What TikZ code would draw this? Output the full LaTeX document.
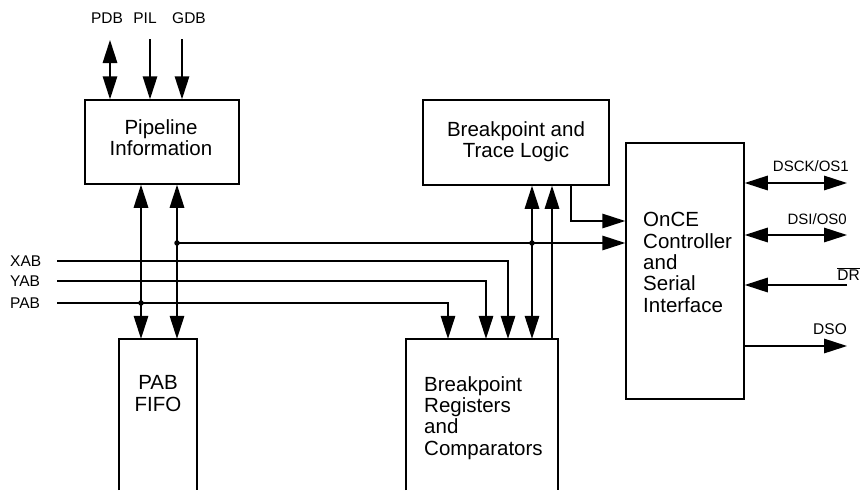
\documentclass[tikz,border=0pt]{standalone}
\usepackage{fontspec}
\setmainfont{Liberation Sans}
\usetikzlibrary{arrows.meta}
\begin{document}
\begin{tikzpicture}[x=1pt,y=-1pt,
  wire/.style={line width=1.5pt},
  tip/.style={wire,-{Triangle[length=23pt,width=14.5pt]}},
  dtip/.style={wire,{Triangle[length=23pt,width=14.5pt]}-{Triangle[length=23pt,width=14.5pt]}},
  blk/.style={draw,line width=1.5pt,inner sep=0pt,rectangle},
  oblk/.style={inner sep=0pt,rectangle},
  btxt/.style={font=\fontsize{20.5}{21.3}\selectfont,inner sep=0pt},
  lbl/.style={font=\fontsize{15.5}{17}\selectfont,inner sep=0pt},
  jdot/.style={circle,fill,inner sep=0pt,minimum size=5.5pt}]
\useasboundingbox (0,0) rectangle (861,490);

% blocks
\node[blk,minimum width=154pt,minimum height=84pt] (pipe) at (162,142) {};
\node[blk,minimum width=186pt,minimum height=85pt] (trace) at (516,142.5) {};
\node[blk,minimum width=118pt,minimum height=256pt] (once) at (685,271) {};
\node[oblk,minimum width=78pt,minimum height=151pt] (fifo) at (158,414.5) {};
\node[oblk,minimum width=152pt,minimum height=151pt] (bpreg) at (482,414.5) {};
\draw[wire] (fifo.south west) -- (fifo.north west) -- (fifo.north east) -- (fifo.south east);
\draw[wire] (bpreg.south west) -- (bpreg.north west) -- (bpreg.north east) -- (bpreg.south east);

% block texts
\node[btxt,align=center] (pipet) at (161,138) {Pipeline\\Information};
\node[btxt,align=center] (tracet) at (516,142) {Breakpoint and\\Trace Logic};
\node[btxt,align=left,anchor=west] (oncet) at (643,262.5) {OnCE\\Controller\\and\\Serial\\Interface};
\node[btxt,align=center] (fifot) at (158,393.5) {PAB\\FIFO};
\node[btxt,align=left,anchor=west] (bpregt) at (424,418) {Breakpoint\\Registers\\and\\Comparators};

% labels
\node[lbl,anchor=base] (pdb) at (107,23.5) {PDB};
\node[lbl,anchor=base] (pil) at (145,23.5) {PIL};
\node[lbl,anchor=base] (gdb) at (189,23.5) {GDB};
\node[lbl,anchor=base west] (xab) at (10,266.6) {XAB};
\node[lbl,anchor=base west] (yab) at (10,286.7) {YAB};
\node[lbl,anchor=base west] (pab) at (10,308.7) {PAB};
\node[lbl,anchor=base east,font=\fontsize{15}{17}\selectfont] (dsck) at (849,171.7) {DSCK/OS1};
\node[lbl,anchor=base east,font=\fontsize{15}{17}\selectfont] (dsi) at (847,224.3) {DSI/OS0};
\node[lbl,anchor=base east] (dr) at (860,280.7) {$\overline{\hbox{DR}}$};
\node[lbl,anchor=base east] (dso) at (847,334) {DSO};

% free ends and junctions
\coordinate (pdbend) at (110,40);
\coordinate (pilend) at (150,39);
\coordinate (gdbend) at (182,39);
\coordinate (xabend) at (57,261);
\coordinate (yabend) at (57,281);
\coordinate (pabend) at (57,303);
\coordinate (j1) at (141,303);
\coordinate (j2) at (177,243);
\coordinate (j3) at (532,243);
\coordinate (c448) at (448,0);
\coordinate (c486) at (486,0);
\coordinate (c508) at (508,0);
\coordinate (c552) at (552,0);
\coordinate (c571) at (571,221);
\coordinate (dsckend) at (847,183);
\coordinate (dsiend) at (847,235);
\coordinate (drend) at (847,285);
\coordinate (dsoend) at (847,346);

% top inputs
\draw[dtip] (pdbend) -- (pipe.north -| pdbend);
\draw[tip] (pilend) -- (pipe.north -| pilend);
\draw[tip] (gdbend) -- (pipe.north -| gdbend);

% pipeline <-> fifo
\draw[dtip] (pipe.south -| j1) -- (fifo.north -| j1);
\draw[dtip] (pipe.south -| j2) -- (fifo.north -| j2);

% bus lines
\draw[tip] (j2) -- (j2 -| once.west);
\draw[tip] (xabend) -| (bpreg.north -| c508);
\draw[tip] (yabend) -| (bpreg.north -| c486);
\draw[tip] (pabend) -| (bpreg.north -| c448);

% breakpoint regs <-> trace
\draw[dtip] (trace.south -| j3) -- (bpreg.north -| j3);
\draw[tip] (bpreg.north -| c552) -- (trace.south -| c552);
\draw[tip] (trace.south -| c571) |- (once.west |- c571);

% junction dots
\node[jdot] (d1) at (j1) {};
\node[jdot] (d2) at (j2) {};
\node[jdot] (d3) at (j3) {};

% right side
\draw[dtip] (once.east |- dsckend) -- (dsckend);
\draw[dtip] (once.east |- dsiend) -- (dsiend);
\draw[tip] (drend) -- (once.east |- drend);
\draw[tip] (once.east |- dsoend) -- (dsoend);
\end{tikzpicture}
\end{document}
